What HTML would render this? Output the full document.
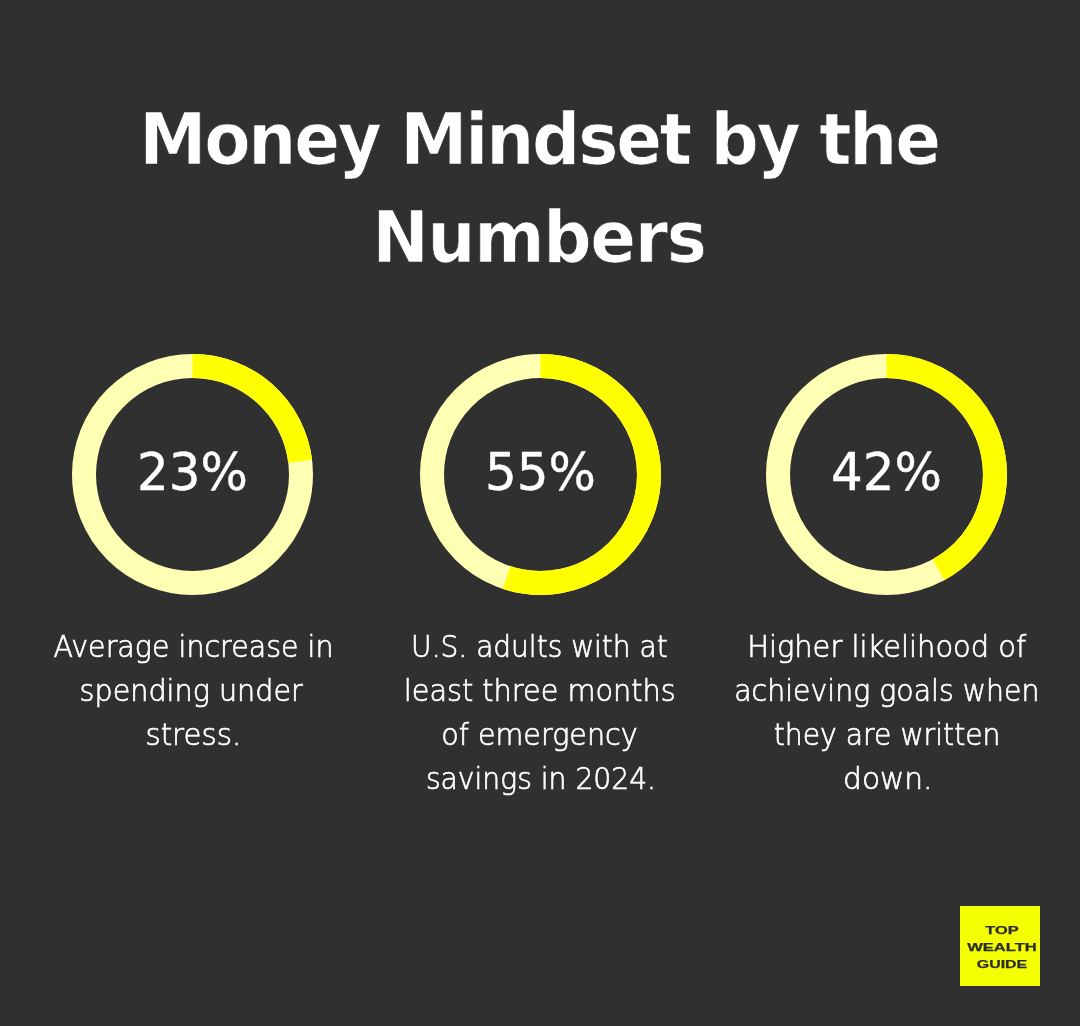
<!DOCTYPE html>
<html lang="en">
<head>
<meta charset="utf-8">
<title>Money Mindset by the Numbers</title>
<style>
  html, body { margin: 0; padding: 0; }
  body { width: 1080px; height: 1026px; background: #303030; overflow: hidden; position: relative;
         font-family: "Liberation Sans", sans-serif; color: #fff; }
  #page { position: absolute; left: 0; top: 0; width: 1080px; height: 1026px; background: #303030; }
  h1 { margin: 0; font-weight: bold; font-size: 71.4px; line-height: 98px; font-family: "DejaVu Sans Condensed", "Liberation Sans", sans-serif;
       -webkit-text-stroke: 0.7px #303030; }
  h1 .tl { position: absolute; white-space: nowrap; left: 0; width: 1080px; text-align: center; transform: scaleX(1.05); transform-origin: 50% 50%; }
  .stat { position: absolute; top: 354px; width: 241px; height: 241px; }
  .stat svg { position: absolute; left: -0.25px; top: 0; width: 241px; height: 241px; display: block; }
  .num { position: absolute; left: 0; top: -2px; width: 241px; height: 241px; line-height: 241px; text-align: center;
         font-size: 52px; font-weight: normal; white-space: nowrap; font-family: "DejaVu Sans", "Liberation Sans", sans-serif;
         transform: scaleX(0.96); -webkit-text-stroke: 0.4px #fff; }
  .desc { position: absolute; margin: 0; left: -60px; width: 361px; top: 271.4px; font-size: 30.6px; line-height: 44px; text-align: center;
          font-family: "DejaVu Sans Light", "DejaVu Sans", "Liberation Sans", sans-serif; font-weight: 200; -webkit-text-stroke: 0.7px #fff; }
  .desc span { display: block; white-space: nowrap; transform: translateX(var(--dx, 0px)) scaleX(var(--s, 0.905)); transform-origin: 50% 50%; }
  .logo { position: absolute; left: 960px; top: 906px; width: 80px; height: 80px; background: #f4ff00; color: #2c2c2e; -webkit-text-stroke: 0.25px #2c2c2e;
          font-family: "Liberation Sans", sans-serif; font-weight: bold; font-size: 11.6px; text-align: center; }
  .logo span { position: absolute; left: 2px; width: 80px; white-space: nowrap; display: block; line-height: 12px; }
</style>
</head>
<body>
<div id="page">
  <h1>
    <span class="tl" style="top:91px;left:-0.7px;letter-spacing:-2.05px;word-spacing:-0.6px">Money Mindset by the</span>
    <span class="tl" style="top:189px;left:-0.7px;letter-spacing:-1.25px">Numbers</span>
  </h1>

  <div class="stat" style="left:72px">
    <svg viewBox="0 0 241 241">
      <circle cx="120.5" cy="120.5" r="108.5" fill="none" stroke="#ffffb3" stroke-width="24"/>
      <circle cx="120.5" cy="120.5" r="108.5" fill="none" stroke="#ffff00" stroke-width="24" stroke-dasharray="156.80 681.73" transform="rotate(-90 120.5 120.5)"/>
    </svg>
    <div class="num">23%</div>
    <p class="desc"><span style="--s:0.931;--dx:1.0px">Average increase in</span><span style="--s:0.936;--dx:-1.3px">spending under</span><span style="--s:0.955;--dx:0.8px">stress.</span></p>
  </div>

  <div class="stat" style="left:420px">
    <svg viewBox="0 0 241 241">
      <circle cx="120.5" cy="120.5" r="108.5" fill="none" stroke="#ffffb3" stroke-width="24"/>
      <circle cx="120.5" cy="120.5" r="108.5" fill="none" stroke="#ffff00" stroke-width="24" stroke-dasharray="374.95 681.73" transform="rotate(-90 120.5 120.5)"/>
    </svg>
    <div class="num">55%</div>
    <p class="desc"><span style="--s:0.916;--dx:-1.1px">U.S. adults with at</span><span style="--s:0.939;--dx:-0.8px">least three months</span><span style="--s:0.935;--dx:-1.0px">of emergency</span><span style="--s:0.921;--dx:0.5px">savings in 2024.</span></p>
  </div>

  <div class="stat" style="left:766px">
    <svg viewBox="0 0 241 241">
      <circle cx="120.5" cy="120.5" r="108.5" fill="none" stroke="#ffffb3" stroke-width="24"/>
      <circle cx="120.5" cy="120.5" r="108.5" fill="none" stroke="#ffff00" stroke-width="24" stroke-dasharray="286.33 681.73" transform="rotate(-90 120.5 120.5)"/>
    </svg>
    <div class="num">42%</div>
    <p class="desc"><span style="--s:0.945;--dx:0.2px">Higher likelihood of</span><span style="--s:0.928;--dx:0.3px">achieving goals when</span><span style="--s:0.924;--dx:0.6px">they are written</span><span style="--s:0.969;--dx:1.3px">down.</span></p>
  </div>

  <div class="logo">
    <span style="top:18px;transform:scaleX(1.41)">TOP</span>
    <span style="top:35px;transform:scaleX(1.43)">WEALTH</span>
    <span style="top:52px;transform:scaleX(1.37)">GUIDE</span>
  </div>
</div>
</body>
</html>
